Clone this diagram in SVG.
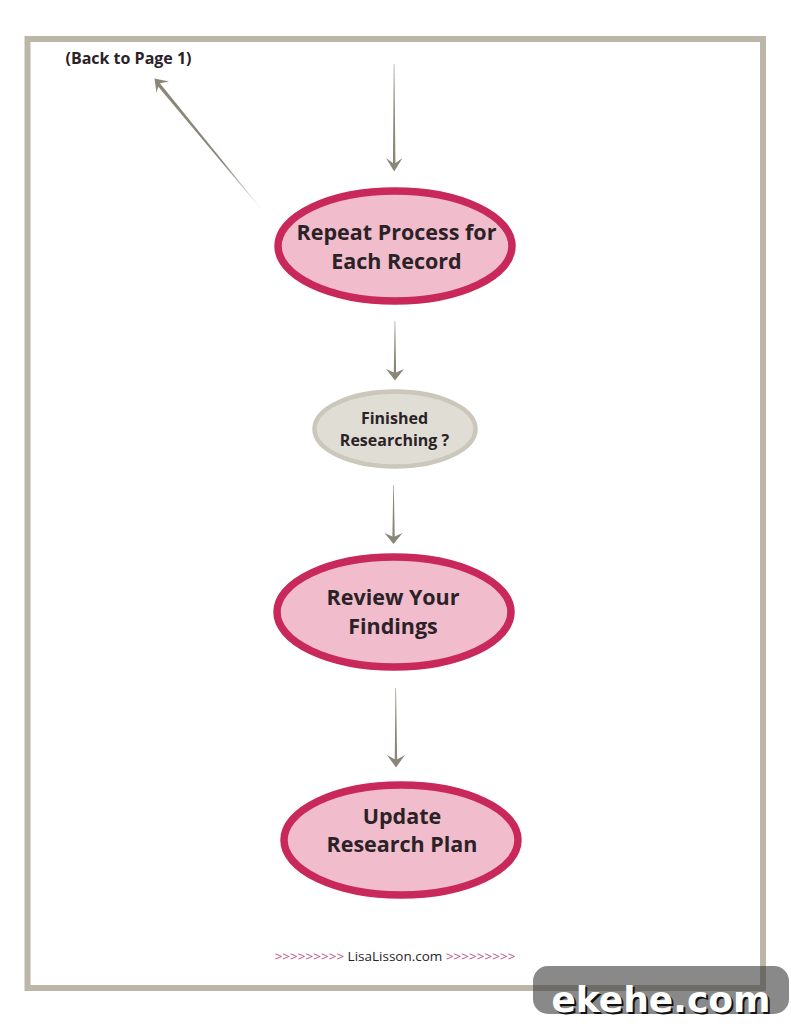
<svg xmlns="http://www.w3.org/2000/svg" width="791" height="1024" viewBox="0 0 791 1024">
<defs>
<linearGradient id="fade" gradientUnits="userSpaceOnUse" x1="260" y1="208" x2="156" y2="80"><stop offset="0" stop-color="#8a8678" stop-opacity="0.1"/><stop offset="0.35" stop-color="#8a8678"/><stop offset="1" stop-color="#8a8678"/></linearGradient>
</defs>
<style>
text{font-family:"Open Sans","Liberation Sans",sans-serif;text-anchor:middle;fill:#2b2228;font-weight:700}
.pink{fill:#f1bccb;stroke:#c9285a;stroke-width:7.5}
.grey{fill:#e0ddd5;stroke:#cbc7ba;stroke-width:4.5}
.big{font-size:21.5px}
.small{font-size:16px}
.shaft{fill:#8a8678}
.head{fill:#8a8678}
.chev{fill:#c0517f;font-weight:400;font-size:13.500px}
</style>
<rect width="791" height="1024" fill="#fff"/>
<rect id="frame" x="27.500" y="39" width="735.500" height="949" fill="none" stroke="#bcb6a8" stroke-width="6"/>
<g id="connectors">
<path class="shaft" d="M393.800 64 L394.300 64 L395.500 168 L392.900 168 Z"/>
<path class="head" d="M386 158 L394.200 164 L402.500 158 L394.200 171.500 Z"/>
<path d="M260 208 L260.400 207.700 L158.500 81.500 L155.800 83.800 Z" fill="url(#fade)"/>
<path class="head" d="M154.500 78.500 L169 81.500 L159 83.500 L156.500 93 Z"/>
<path class="shaft" d="M394.700 321 L395.200 321 L396.200 377 L393.700 377 Z"/>
<path class="head" d="M386 369 L395 373 L404 369 L395 380.500 Z"/>
<path class="shaft" d="M393.300 485 L393.800 485 L394.800 541 L392.300 541 Z"/>
<path class="head" d="M384.500 533 L393.500 537 L402.500 533 L393.500 544 Z"/>
<path class="shaft" d="M395.500 688 L396 688 L397.200 764 L394.700 764 Z"/>
<path class="head" d="M387 755 L396 760 L405 755 L396 767.500 Z"/>
</g>
<g id="back"><text x="128.500" y="63.500" font-size="16px">(Back to Page 1)</text></g>
<g id="node-repeat">
<ellipse class="pink" cx="395" cy="246" rx="117" ry="55"/>
<text class="big" x="396.500" y="240">Repeat Process for</text>
<text class="big" x="396.500" y="269">Each Record</text>
</g>
<g id="node-finished">
<ellipse class="grey" cx="395" cy="429" rx="80.500" ry="37.500"/>
<text class="small" x="394.500" y="423.500">Finished</text>
<text class="small" x="394.500" y="446">Researching ?</text>
</g>
<g id="node-review">
<ellipse class="pink" cx="394" cy="612" rx="117" ry="55"/>
<text class="big" x="393" y="605">Review Your</text>
<text class="big" x="393" y="634">Findings</text>
</g>
<g id="node-update">
<ellipse class="pink" cx="401" cy="840" rx="117" ry="55"/>
<text class="big" x="402" y="824">Update</text>
<text class="big" x="402" y="852">Research Plan</text>
</g>
<g id="footer">
<text x="395" y="961" font-size="13.500px" style="font-weight:400"><tspan class="chev">&gt;&gt;&gt;&gt;&gt;&gt;&gt;&gt;&gt;</tspan> LisaLisson.com <tspan class="chev">&gt;&gt;&gt;&gt;&gt;&gt;&gt;&gt;&gt;</tspan></text>
</g>
<g id="watermark">
<rect x="533" y="966" width="256" height="48" rx="15" fill="#3a3a3a" fill-opacity="0.6"/>
<text x="661" y="1012" font-size="36px" style="font-family:'DejaVu Sans',sans-serif;fill:#111" transform="translate(2 2)">ekehe.com</text>
<text x="661" y="1012" font-size="36px" style="font-family:'DejaVu Sans',sans-serif;fill:#fff">ekehe.com</text>
</g>
</svg>
